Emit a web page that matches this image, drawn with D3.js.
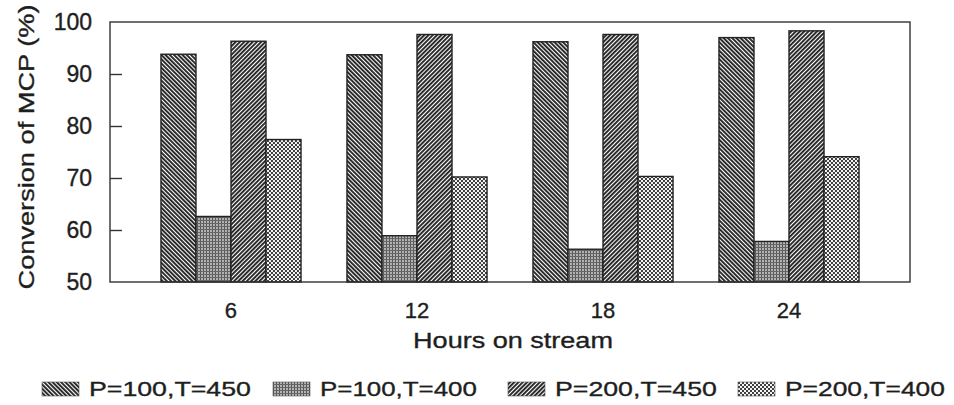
<!DOCTYPE html>
<html>
<head>
<meta charset="utf-8">
<script src="https://cdn.jsdelivr.net/npm/d3@7"></script>
<style>
  body { margin: 0; background: #fff; }
  text { font-family: "Liberation Sans", Arial, sans-serif; fill: #1e1e1e; }
</style>
</head>
<body>
<div id="chart"></div>
<script>
// Data
const hours = ['6', '12', '18', '24'];
const seriesNames = ['P=100,T=450', 'P=100,T=400', 'P=200,T=450', 'P=200,T=400'];
const conv100_450 = [93.8, 93.7, 96.2, 97.0];
const conv100_400 = [62.6, 58.9, 56.3, 57.8];
const conv200_450 = [96.3, 97.6, 97.6, 98.3];
const conv200_400 = [77.4, 70.2, 70.3, 74.1];
const yTicks = [50, 60, 70, 80, 90, 100];

const seriesValues = [conv100_450, conv100_400, conv200_450, conv200_400];

const W = 954, H = 405;
const margin = { top: 22, right: 44, bottom: 123, left: 110 };
const innerW = W - margin.left - margin.right;
const innerH = H - margin.top - margin.bottom;

const svg = d3.select('#chart').append('svg')
  .attr('width', W)
  .attr('height', H);

// text stretched horizontally to a target width (the scan is wider than the font)
function wideText(parent, x, y, str, size, width, anchor) {
  const t = parent.append('text')
    .style('font-size', size + 'px')
    .style('stroke', '#1e1e1e').style('stroke-width', 0.35)
    .attr('text-anchor', anchor || 'start')
    .text(str);
  const sx = width / t.node().getComputedTextLength();
  t.attr('transform', `translate(${x},${y}) scale(${sx},1)`);
  return t;
}

// Hatch patterns for the four series
const defs = svg.append('defs');

function stripes(id, angle) {
  const p = defs.append('pattern').attr('id', id)
    .attr('patternUnits', 'userSpaceOnUse')
    .attr('width', 3).attr('height', 3)
    .attr('patternTransform', `rotate(${angle})`);
  p.append('rect').attr('width', 3).attr('height', 3).attr('fill', '#fff');
  p.append('rect').attr('width', 1.9).attr('height', 3).attr('fill', '#222');
}
stripes('pat0', -45);
stripes('pat2', 45);

const p2 = defs.append('pattern').attr('id', 'pat1')
  .attr('patternUnits', 'userSpaceOnUse').attr('width', 3).attr('height', 3);
p2.append('rect').attr('width', 3).attr('height', 3).attr('fill', '#b4b4b4');
p2.append('rect').attr('width', 1).attr('height', 3).attr('fill', '#555');
p2.append('rect').attr('width', 3).attr('height', 1).attr('fill', '#666');

const p4 = defs.append('pattern').attr('id', 'pat3')
  .attr('patternUnits', 'userSpaceOnUse').attr('width', 4).attr('height', 4);
p4.append('rect').attr('width', 4).attr('height', 4).attr('fill', '#f4f4f4');
p4.append('rect').attr('width', 2).attr('height', 2).attr('fill', '#3e3e3e');
p4.append('rect').attr('x', 2).attr('y', 2).attr('width', 2).attr('height', 2).attr('fill', '#3e3e3e');

const g = svg.append('g')
  .attr('transform', `translate(${margin.left},${margin.top})`);

// Scales
const x0 = d3.scaleBand()
  .domain(hours)
  .range([0, innerW])
  .paddingInner(0.247)
  .paddingOuter(0.274);

const x1 = d3.scaleBand()
  .domain(d3.range(seriesNames.length))
  .range([0, x0.bandwidth()]);

const y = d3.scaleLinear()
  .domain([50, 100])
  .range([innerH, 0]);

// Bars
const groups = g.selectAll('.grp')
  .data(hours)
  .join('g')
  .attr('class', 'grp')
  .attr('transform', d => `translate(${x0(d)},0)`);

groups.selectAll('rect')
  .data((d, i) => seriesValues.map((vals, s) => ({ s, v: vals[i] })))
  .join('rect')
  .attr('x', d => x1(d.s))
  .attr('y', d => y(d.v))
  .attr('width', x1.bandwidth())
  .attr('height', d => innerH - y(d.v))
  .attr('fill', d => `url(#pat${d.s})`)
  .attr('stroke', '#222')
  .attr('stroke-width', 1.4);

// Frame
g.append('rect')
  .attr('width', innerW)
  .attr('height', innerH)
  .attr('fill', 'none')
  .attr('stroke', '#333')
  .attr('stroke-width', 1.4);

// Y axis (ticks inward)
const yAxis = g.append('g')
  .call(d3.axisLeft(y).tickValues(yTicks).tickSize(-12).tickPadding(18));
yAxis.select('.domain').remove();
yAxis.selectAll('line').attr('stroke', '#333').attr('stroke-width', 1.4);
yAxis.selectAll('text')
  .style('font-size', '23px')
  .style('stroke', '#1e1e1e').style('stroke-width', 0.35)
  .attr('font-family', '"Liberation Sans", Arial, sans-serif')
  .attr('fill', '#1e1e1e');
yAxis.selectAll('.tick').filter(d => d === 50 || d === 100).select('line').remove();

// X axis labels
const xAxis = g.append('g')
  .attr('transform', `translate(0,${innerH})`)
  .call(d3.axisBottom(x0).tickSize(0).tickPadding(20));
xAxis.select('.domain').remove();
xAxis.selectAll('text')
  .style('font-size', '22px')
  .style('stroke', '#1e1e1e').style('stroke-width', 0.35)
  .attr('font-family', '"Liberation Sans", Arial, sans-serif')
  .attr('fill', '#1e1e1e');

// Axis titles
wideText(svg, margin.left + innerW / 2 + 3, 348, 'Hours on stream', 22, 200, 'middle');

const yTitle = wideText(svg, 0, 0, 'Conversion of MCP (%)', 22, 285, 'middle');
yTitle.attr('transform', `translate(34,147) rotate(-90) scale(${285 / yTitle.node().getComputedTextLength()},1)`);

// Legend
const legendX = [42, 273, 508, 738];
const legendTextW = [162, 157, 162, 160];
const legend = svg.append('g');
seriesNames.forEach((name, i) => {
  legend.append('rect')
    .attr('x', legendX[i])
    .attr('y', 382)
    .attr('width', 37)
    .attr('height', 14)
    .attr('fill', `url(#pat${i})`)
    .attr('stroke', '#555')
    .attr('stroke-width', 0.6);
  wideText(legend, legendX[i] + 47, 396, name, 21, legendTextW[i]);
});
</script>
</body>
</html>
